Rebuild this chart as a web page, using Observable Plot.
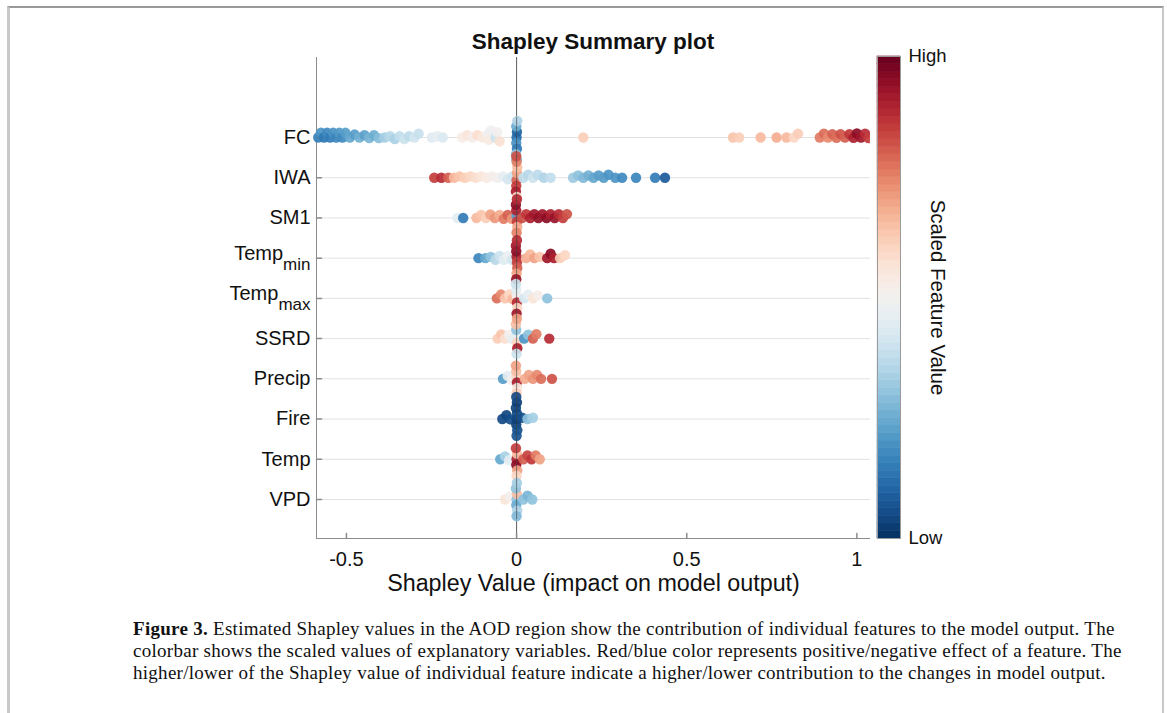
<!DOCTYPE html>
<html><head><meta charset="utf-8">
<script src="https://cdn.jsdelivr.net/npm/d3@7"></script>
<script src="https://cdn.jsdelivr.net/npm/@observablehq/plot@0.6"></script>
<style>
body{margin:0;background:#fff;width:1167px;height:713px;position:relative;overflow:hidden;font-family:"Liberation Sans",Arial,sans-serif;}
#border{position:absolute;left:7px;top:6px;width:1152px;height:720px;border-top:2px solid #9a9a9a;border-left:3px solid #c8c8c8;border-right:2px solid #c8c8c8;}
#title{position:absolute;left:316px;width:554px;top:29px;text-align:center;font-weight:bold;font-size:22.5px;line-height:26px;color:#111}
.layer{position:absolute;left:0;top:50px}
#cbar{position:absolute;left:870px;top:30px}
#caption{position:absolute;left:133px;top:618px;font-family:"Liberation Serif",serif;font-size:19px;letter-spacing:0.28px;line-height:22px;color:#111;white-space:nowrap}
</style></head>
<body>
<div id="border"></div>
<div id="title">Shapley Summary plot</div>
<div id="base" class="layer"></div>
<div id="dots" class="layer"></div>
<div id="cbar"></div>
<div id="caption">
<div><b>Figure 3.</b> Estimated Shapley values in the AOD region show the contribution of individual features to the model output. The</div>
<div>colorbar shows the scaled values of explanatory variables. Red/blue color represents positive/negative effect of a feature. The</div>
<div>higher/lower of the Shapley value of individual feature indicate a higher/lower contribution to the changes in model output.</div>
</div>
<script>
// Features, top to bottom
const features = ["FC","IWA","SM1","Temp_min","Temp_max","SSRD","Precip","Fire","Temp","VPD"];

// [Shapley value, scaled feature value] per observation
const FC = [
 [-0.583,0.16],[-0.575,0.2],[-0.566,0.14],[-0.557,0.18],[-0.548,0.15],[-0.539,0.2],[-0.530,0.17],[-0.521,0.21],[-0.512,0.18],[-0.503,0.22],
 [-0.490,0.24],[-0.476,0.22],[-0.462,0.26],[-0.447,0.23],[-0.433,0.27],[-0.419,0.25],[-0.405,0.29],
 [-0.388,0.33],[-0.372,0.36],[-0.358,0.34],[-0.344,0.38],[-0.330,0.40],[-0.316,0.37],[-0.300,0.41],[-0.288,0.39],
 [-0.249,0.44],[-0.233,0.46],[-0.217,0.43],
 [-0.160,0.53],[-0.145,0.56],[-0.130,0.52],[-0.115,0.58],[-0.100,0.55],
 [-0.086,0.5],[-0.081,0.54],[-0.075,0.48],[-0.062,0.4],[-0.057,0.5],[-0.050,0.57],
 [0,0.12],[0.001,0.1],[-0.001,0.2],[0.001,0.15],[-0.001,0.25],[0.002,0.35],[-0.002,0.3],[0,0.18],
 [0.196,0.62],[0.636,0.64],[0.654,0.62],[0.717,0.66],[0.764,0.68],[0.793,0.66],[0.815,0.6],[0.827,0.62],
 [0.891,0.76],[0.903,0.78],[0.915,0.74],[0.928,0.8],[0.940,0.78],[0.952,0.82],[0.965,0.8],[0.978,0.86],[0.990,0.9],[1.000,0.95],[1.012,0.92],[1.024,0.88],[1.034,0.85]
];
const IWA = [
 [-0.242,0.85],[-0.221,0.88],[-0.201,0.8],[-0.184,0.66],[-0.168,0.64],[-0.152,0.62],[-0.136,0.6],[-0.120,0.58],[-0.104,0.56],[-0.088,0.54],[-0.072,0.52],[-0.056,0.5],[-0.040,0.46],[-0.026,0.42],[-0.012,0.4],
 [0,0.8],[0.001,0.7],[-0.001,0.85],[0.002,0.65],[-0.002,0.9],[0,0.75],[0.001,0.6],[-0.001,0.82],
 [0.020,0.38],[0.034,0.36],[0.048,0.4],[0.062,0.37],[0.080,0.35],[0.100,0.38],
 [0.166,0.32],[0.181,0.3],[0.196,0.28],[0.211,0.26],[0.226,0.24],[0.241,0.22],[0.256,0.22],[0.270,0.2],[0.290,0.2],[0.310,0.18],[0.351,0.17],[0.407,0.15],[0.436,0.08]
];
const SM1 = [
 [-0.174,0.45],[-0.157,0.15],[-0.118,0.66],[-0.104,0.64],[-0.090,0.62],[-0.077,0.7],[-0.064,0.72],[-0.050,0.68],[-0.038,0.76],[-0.026,0.8],[-0.014,0.72],
 [0,0.22],[0.001,0.85],[-0.001,0.9],[0.002,0.68],[-0.002,0.95],[0,0.75],[0.001,0.88],
 [0.016,0.82],[0.028,0.86],[0.040,0.9],[0.052,0.92],[0.064,0.94],[0.076,0.92],[0.088,0.95],[0.100,0.9],[0.112,0.93],[0.124,0.88],[0.136,0.85],[0.148,0.82]
];
const TEMP_MIN = [
 [-0.112,0.17],[-0.092,0.24],[-0.076,0.3],[-0.062,0.36],[-0.050,0.4],[-0.038,0.44],[-0.026,0.47],[-0.014,0.42],
 [0,0.9],[0.001,0.85],[-0.001,0.95],[0.002,0.8],[-0.002,0.92],[0,0.7],[0.001,0.88],[-0.001,0.93],
 [0.028,0.68],[0.040,0.66],[0.052,0.7],[0.068,0.64],[0.090,0.92],[0.100,0.95],[0.110,0.9],[0.128,0.62],[0.142,0.6]
];
const TEMP_MAX = [
 [-0.058,0.78],[-0.046,0.74],[-0.034,0.64],[-0.022,0.6],[-0.012,0.66],
 [0,0.5],[0.001,0.88],[-0.001,0.45],[0.002,0.6],[-0.002,0.4],[0,0.92],
 [0.022,0.42],[0.034,0.46],[0.048,0.56],[0.062,0.52],[0.090,0.3]
];
const SSRD = [
 [-0.056,0.62],[-0.045,0.64],[-0.034,0.58],[-0.022,0.5],[-0.012,0.46],
 [0,0.45],[0.001,0.6],[-0.001,0.3],[0.002,0.9],[-0.002,0.65],[0,0.4],[0.001,0.7],
 [0.022,0.2],[0.034,0.3],[0.048,0.8],[0.058,0.76],[0.096,0.88]
];
const PRECIP = [
 [-0.040,0.22],[-0.026,0.45],[-0.014,0.5],
 [0,0.6],[0.001,0.9],[-0.001,0.65],[0.002,0.55],[-0.002,0.7],[0,0.62],
 [0.024,0.68],[0.036,0.7],[0.048,0.72],[0.060,0.74],[0.072,0.78],[0.104,0.82]
];
const FIRE = [
 [-0.042,0.05],[-0.030,0.04],[-0.019,0.06],
 [0,0.04],[0.001,0.05],[-0.001,0.03],[0.002,0.06],[-0.002,0.04],[0,0.07],[0.001,0.03],[-0.001,0.05],
 [0.016,0.06],[0.032,0.3],[0.048,0.33]
];
const TEMP = [
 [-0.048,0.24],[-0.034,0.34],[-0.022,0.45],
 [0,0.9],[0.001,0.65],[-0.001,0.95],[0.002,0.7],[-0.002,0.85],[0,0.6],
 [0.020,0.8],[0.032,0.84],[0.044,0.86],[0.056,0.76],[0.068,0.7]
];
const VPD = [
 [-0.034,0.56],[-0.020,0.5],
 [0,0.3],[0.001,0.65],[-0.001,0.25],[0.002,0.35],[-0.002,0.3],[0,0.28],[0.001,0.33],
 [0.020,0.3],[0.032,0.27],[0.046,0.3]
];

const xTicks = [-0.5, 0, 0.5, 1];
const xTickLabels = ["-0.5", "0", "0.5", "1"];
const colorbarLabels = ["Low", "High"];

const byFeature = {FC, IWA, SM1, Temp_min: TEMP_MIN, Temp_max: TEMP_MAX, SSRD, Precip: PRECIP, Fire: FIRE, Temp: TEMP, VPD};
const points = features.flatMap(f => byFeature[f].map(([x, c]) => ({feature: f, x, c})));

const tickShape = {draw(ctx, l) { ctx.moveTo(0, 0); ctx.lineTo(0, -l); }};
const font = "Liberation Sans, Arial, sans-serif";
const axisGray = "#8c8c8c";
const colorScale = {type: "linear", scheme: "RdBu", reverse: true, domain: [0, 1]};
const xScale = {domain: [-0.588, 1.04], axis: null};
const rowBand = {type: "band", domain: features, range: [66.9, 469.1], padding: 0, round: false, axis: null};
const frameOpts = {width: 870, height: 560, marginLeft: 316, marginRight: 0, marginTop: 7, marginBottom: 72};

// Base layer: grid, axes, labels
const base = Plot.plot({
  ...frameOpts,
  style: {background: "transparent", fontFamily: font, color: "#111"},
  x: xScale,
  y: rowBand,
  marks: [
    Plot.gridY({stroke: "#e2e2e2", strokeOpacity: 1}),
    Plot.ruleX([0], {stroke: "#444", strokeOpacity: 0.85}),
    Plot.frame({anchor: "left", stroke: axisGray}),
    Plot.frame({anchor: "bottom", stroke: axisGray}),
    Plot.vector(xTicks, {x: d => d, frameAnchor: "bottom", length: 5, anchor: "start", rotate: 0, shape: tickShape, stroke: axisGray}),
    Plot.vector(features, {y: d => d, frameAnchor: "left", length: 5, anchor: "start", rotate: 90, shape: tickShape, stroke: axisGray}),
    Plot.text(features, {y: d => d, frameAnchor: "left", dx: -6, textAnchor: "end", text: d => d, fontSize: 20, fill: "#111"}),
    Plot.text(xTicks, {x: d => d, text: (d, i) => xTickLabels[i], frameAnchor: "bottom", dy: 27, fontSize: 20, fill: "#111"}),
    Plot.text(["Shapley Value (impact on model output)"], {frameAnchor: "bottom", dy: 52, fontSize: 23.3, fill: "#111"})
  ]
});
const NS = "http://www.w3.org/2000/svg";
base.querySelectorAll("text").forEach(t => {
  const m = /^(Temp)_(min|max)$/.exec(t.textContent);
  if (!m) return;
  while (t.firstChild) t.removeChild(t.firstChild);
  const a = document.createElementNS(NS, "tspan");
  a.setAttribute("dy", "-5"); a.textContent = m[1];
  const b = document.createElementNS(NS, "tspan");
  b.setAttribute("dy", "10"); b.setAttribute("font-size", "17"); b.textContent = m[2];
  t.append(a, b);
});
document.getElementById("base").append(base);

// Dot layer: one beeswarm row per feature (facets)
const dots = Plot.plot({
  ...frameOpts,
  style: {background: "transparent", fontFamily: font},
  x: xScale,
  fy: {...rowBand, type: undefined},
  color: colorScale,
  marks: [
    Plot.dot(points, Plot.dodgeY({anchor: "middle", padding: -4.8, x: "x", fy: "feature", r: 5.2, fill: "c", fillOpacity: 0.92})),
    Plot.ruleX([0], {stroke: "#444", strokeOpacity: 0.6})
  ]
});
document.getElementById("dots").append(dots);

// Colorbar
const steps = d3.range(64).map(i => i / 64);
const cbar = Plot.plot({
  width: 140, height: 520,
  marginLeft: 7, marginRight: 110, marginTop: 26, marginBottom: 12,
  style: {background: "transparent", fontFamily: font, color: "#111"},
  x: {domain: [0, 1], axis: null},
  y: {domain: [0, 1], axis: null},
  color: colorScale,
  marks: [
    Plot.rect(steps, {x1: 0, x2: 1, y1: d => d, y2: d => d + 1 / 64, fill: d => d + 1 / 128, stroke: d => d + 1 / 128, strokeWidth: 0.6}),
    Plot.frame({stroke: "#9a9a9a"}),
    Plot.text(colorbarLabels, {x: 1, y: (d, i) => i, text: d => d, dx: 8, textAnchor: "start", fontSize: 18.5, fill: "#111"}),
    Plot.text(["Scaled Feature Value"], {x: 1, y: 0.5, dx: 37, rotate: 90, fontSize: 20.5, fill: "#111"})
  ]
});
document.getElementById("cbar").append(cbar);
</script>
</body></html>
